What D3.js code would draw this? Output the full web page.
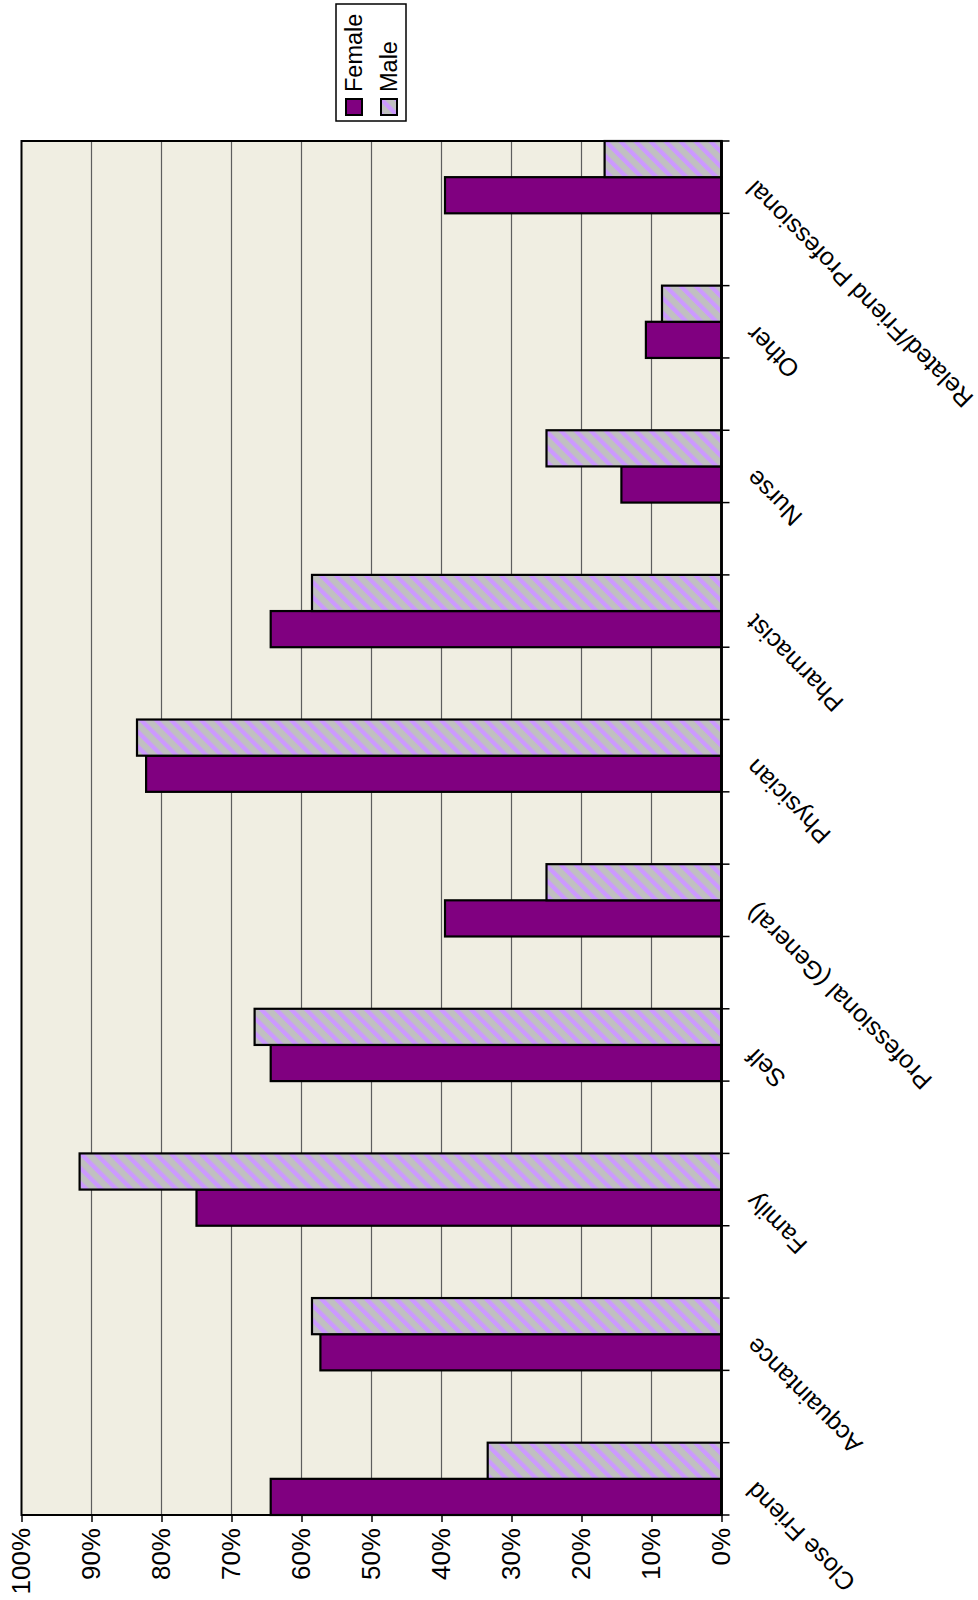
<!DOCTYPE html>
<html>
<head>
<meta charset="utf-8">
<script src="https://cdn.jsdelivr.net/npm/d3@7"></script>
<style>
  body { margin: 0; background: #fff; }
  text { font-family: "Liberation Sans", Arial, sans-serif; fill: #000; }
</style>
</head>
<body>
<svg id="chart" width="978" height="1600"></svg>
<script>
// Categories, in order along the category axis
const categories = [
  "Close Friend", "Acquaintance", "Family", "Self", "Professional (General)",
  "Physician", "Pharmacist", "Nurse", "Other", "Related/Friend Professional"
];
const seriesNames = ["Female", "Male"];
// Share of respondents (%)
const femaleValues = [64.4, 57.3, 75.0, 64.4, 39.5, 82.2, 64.4, 14.3, 10.8, 39.5];
const maleValues   = [33.4, 58.5, 91.7, 66.7, 25.0, 83.5, 58.5, 25.0, 8.5, 16.7];
const percentTicks = [0, 10, 20, 30, 40, 50, 60, 70, 80, 90, 100];

const svg = d3.select("#chart");

// The chart is built as a column chart and then turned a quarter turn
// counter-clockwise so that it fills the tall page.
const W = 1600;
const plot = { left: 85, right: 1459, top: 21.5, bottom: 721.5 };
const g = svg.append("g").attr("transform", `translate(0,${W}) rotate(-90)`);

const x = d3.scaleBand().domain(categories)
  .range([plot.left, plot.right]).paddingInner(0.5).paddingOuter(0);
const xs = d3.scaleBand().domain(seriesNames).range([0, x.bandwidth()]);
const y = d3.scaleLinear().domain([0, 100]).range([plot.bottom, plot.top]);

const colors = { Female: "#800080", Male: "url(#maleStripes)" };

// striped fill for the Male series
const defs = svg.append("defs");
const pat = defs.append("pattern")
  .attr("id", "maleStripes")
  .attr("patternUnits", "userSpaceOnUse")
  .attr("width", 10.6).attr("height", 10.6)
  .attr("patternTransform", "rotate(45)");
pat.append("rect").attr("width", 10.6).attr("height", 10.6).attr("fill", "#c0c0c0");
pat.append("rect").attr("width", 4.3).attr("height", 10.6).attr("fill", "#cc99ff");

// plot background
g.append("rect")
  .attr("x", plot.left).attr("y", plot.top)
  .attr("width", plot.right - plot.left).attr("height", plot.bottom - plot.top)
  .attr("fill", "#f0eee2");

// gridlines
g.append("g").selectAll("line")
  .data(percentTicks.filter(t => t > 0 && t < 100))
  .join("line")
  .attr("x1", plot.left).attr("x2", plot.right)
  .attr("y1", d => y(d)).attr("y2", d => y(d))
  .attr("stroke", "#5e5e5e").attr("stroke-width", 1.2);

// bars
const rows = categories.map((c, i) => ({ cat: c, Female: femaleValues[i], Male: maleValues[i] }));
g.append("g").selectAll("g")
  .data(rows)
  .join("g")
  .attr("transform", d => `translate(${x(d.cat)},0)`)
  .selectAll("rect")
  .data(d => seriesNames.map(s => ({ s, v: d[s] })))
  .join("rect")
  .attr("x", d => xs(d.s))
  .attr("width", xs.bandwidth())
  .attr("y", d => y(d.v))
  .attr("height", d => y(0) - y(d.v))
  .attr("fill", d => colors[d.s])
  .attr("stroke", "#000").attr("stroke-width", 2.2);

// plot frame
g.append("rect")
  .attr("x", plot.left).attr("y", plot.top)
  .attr("width", plot.right - plot.left).attr("height", plot.bottom - plot.top)
  .attr("fill", "none").attr("stroke", "#000").attr("stroke-width", 2);
// category axis line
g.append("line")
  .attr("x1", plot.left).attr("x2", plot.right)
  .attr("y1", plot.bottom).attr("y2", plot.bottom)
  .attr("stroke", "#000").attr("stroke-width", 2.8);

// value axis
const yAxis = g.append("g")
  .attr("transform", `translate(${plot.left},0)`)
  .call(d3.axisLeft(y).tickValues(percentTicks).tickFormat(d => d + "%")
    .tickSize(7).tickPadding(6));
yAxis.select(".domain").remove();
yAxis.selectAll(".tick line").attr("stroke", "#000").attr("stroke-width", 1.5);
yAxis.selectAll(".tick text")
  .style("font-family", '"Liberation Sans", Arial, sans-serif')
  .style("font-size", "26px").attr("fill", "#000");

// category ticks at every band edge
const edges = categories.flatMap(c => [x(c), x(c) + x.bandwidth()]);
g.append("g").selectAll("line")
  .data(edges)
  .join("line")
  .attr("x1", d => d).attr("x2", d => d)
  .attr("y1", plot.bottom).attr("y2", plot.bottom + 8)
  .attr("stroke", "#000").attr("stroke-width", 1.5);

// category labels, slanted
g.append("g").selectAll("text")
  .data(categories)
  .join("text")
  .attr("transform", d => `translate(${x(d) + x.bandwidth() / 2 - 8},${plot.bottom + 29}) rotate(-45)`)
  .attr("text-anchor", "end")
  .attr("dy", "0.35em")
  .style("font-size", "25px")
  .text(d => d);

// legend
const legend = g.append("g");
legend.append("rect")
  .attr("x", 1479).attr("y", 336).attr("width", 117).attr("height", 70)
  .attr("fill", "#fff").attr("stroke", "#000").attr("stroke-width", 1.5);
const items = legend.selectAll("g.item")
  .data(seriesNames)
  .join("g").attr("class", "item")
  .attr("transform", (d, i) => `translate(0,${i * 35})`);
items.append("rect")
  .attr("x", 1485).attr("y", 346).attr("width", 16).attr("height", 16)
  .attr("fill", d => colors[d]).attr("stroke", "#000").attr("stroke-width", 2);
items.append("text")
  .attr("x", 1508).attr("y", 362)
  .style("font-size", "23.5px")
  .text(d => d);
</script>
</body>
</html>
